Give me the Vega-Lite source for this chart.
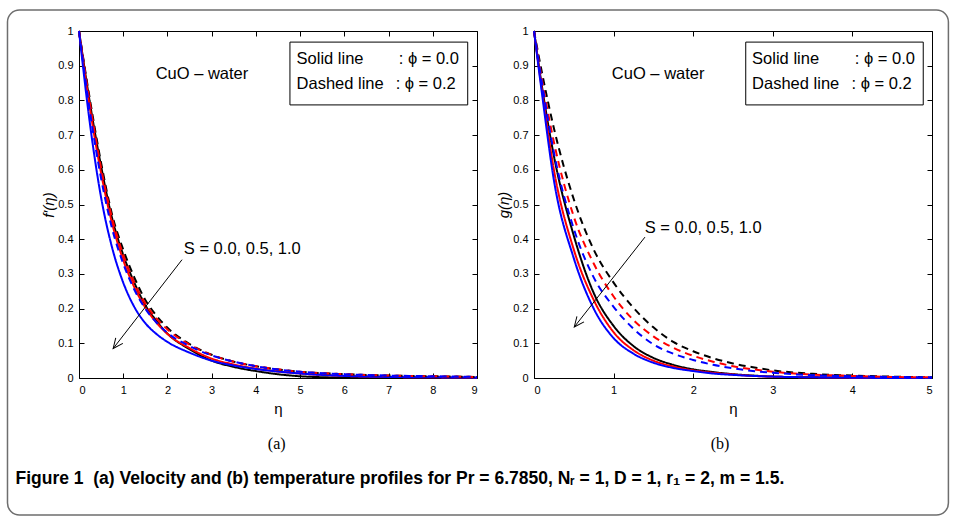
{
  "$schema": "https://vega.github.io/schema/vega-lite/v6.json",
  "padding": {"left": 6, "top": 8, "right": 0, "bottom": 0},
  "background": "white",
  "bounds": "flush",
  "spacing": 57,
  "config": {
    "view": {"stroke": "black", "strokeWidth": 1},
    "axis": {"labelFont": "Liberation Sans", "labelFontSize": 11, "labelColor": "black", "tickColor": "black", "titleFont": "Liberation Sans", "titleFontWeight": "normal", "titleColor": "black", "domain": false, "grid": false},
    "text": {"font": "Liberation Sans", "color": "black"}
  },
  "datasets": {
    "fa": [
      {"S":"0.0","p":"0.0","x":0,"y":1},{"S":"0.0","p":"0.0","x":0.25,"y":0.79},{"S":"0.0","p":"0.0","x":0.5,"y":0.61},{"S":"0.0","p":"0.0","x":0.75,"y":0.46},{"S":"0.0","p":"0.0","x":1,"y":0.355},{"S":"0.0","p":"0.0","x":1.25,"y":0.275},{"S":"0.0","p":"0.0","x":1.5,"y":0.21},{"S":"0.0","p":"0.0","x":1.75,"y":0.165},{"S":"0.0","p":"0.0","x":2,"y":0.128},{"S":"0.0","p":"0.0","x":2.5,"y":0.083},{"S":"0.0","p":"0.0","x":3,"y":0.05},{"S":"0.0","p":"0.0","x":3.5,"y":0.032},{"S":"0.0","p":"0.0","x":4,"y":0.02},{"S":"0.0","p":"0.0","x":5,"y":0.005},{"S":"0.0","p":"0.0","x":6,"y":0.001},{"S":"0.0","p":"0.0","x":7,"y":0},{"S":"0.0","p":"0.0","x":8,"y":0},{"S":"0.0","p":"0.0","x":9,"y":0},
      {"S":"0.5","p":"0.0","x":0,"y":1},{"S":"0.5","p":"0.0","x":0.25,"y":0.775},{"S":"0.5","p":"0.0","x":0.5,"y":0.59},{"S":"0.5","p":"0.0","x":0.75,"y":0.445},{"S":"0.5","p":"0.0","x":1,"y":0.34},{"S":"0.5","p":"0.0","x":1.25,"y":0.262},{"S":"0.5","p":"0.0","x":1.5,"y":0.203},{"S":"0.5","p":"0.0","x":1.75,"y":0.16},{"S":"0.5","p":"0.0","x":2,"y":0.127},{"S":"0.5","p":"0.0","x":2.5,"y":0.086},{"S":"0.5","p":"0.0","x":3,"y":0.056},{"S":"0.5","p":"0.0","x":3.5,"y":0.039},{"S":"0.5","p":"0.0","x":4,"y":0.027},{"S":"0.5","p":"0.0","x":5,"y":0.013},{"S":"0.5","p":"0.0","x":6,"y":0.006},{"S":"0.5","p":"0.0","x":7,"y":0.003},{"S":"0.5","p":"0.0","x":8,"y":0.002},{"S":"0.5","p":"0.0","x":9,"y":0.001},
      {"S":"1.0","p":"0.0","x":0,"y":1},{"S":"1.0","p":"0.0","x":0.25,"y":0.73},{"S":"1.0","p":"0.0","x":0.5,"y":0.52},{"S":"1.0","p":"0.0","x":0.75,"y":0.375},{"S":"1.0","p":"0.0","x":1,"y":0.275},{"S":"1.0","p":"0.0","x":1.25,"y":0.205},{"S":"1.0","p":"0.0","x":1.5,"y":0.158},{"S":"1.0","p":"0.0","x":1.75,"y":0.127},{"S":"1.0","p":"0.0","x":2,"y":0.104},{"S":"1.0","p":"0.0","x":2.5,"y":0.073},{"S":"1.0","p":"0.0","x":3,"y":0.05},{"S":"1.0","p":"0.0","x":3.5,"y":0.036},{"S":"1.0","p":"0.0","x":4,"y":0.026},{"S":"1.0","p":"0.0","x":5,"y":0.013},{"S":"1.0","p":"0.0","x":6,"y":0.006},{"S":"1.0","p":"0.0","x":7,"y":0.003},{"S":"1.0","p":"0.0","x":8,"y":0.002},{"S":"1.0","p":"0.0","x":9,"y":0.001},
      {"S":"0.0","p":"0.2","x":0,"y":1},{"S":"0.0","p":"0.2","x":0.25,"y":0.8},{"S":"0.0","p":"0.2","x":0.5,"y":0.62},{"S":"0.0","p":"0.2","x":0.75,"y":0.47},{"S":"0.0","p":"0.2","x":1,"y":0.37},{"S":"0.0","p":"0.2","x":1.25,"y":0.29},{"S":"0.0","p":"0.2","x":1.5,"y":0.225},{"S":"0.0","p":"0.2","x":1.75,"y":0.18},{"S":"0.0","p":"0.2","x":2,"y":0.145},{"S":"0.0","p":"0.2","x":2.5,"y":0.098},{"S":"0.0","p":"0.2","x":3,"y":0.067},{"S":"0.0","p":"0.2","x":3.5,"y":0.047},{"S":"0.0","p":"0.2","x":4,"y":0.034},{"S":"0.0","p":"0.2","x":5,"y":0.018},{"S":"0.0","p":"0.2","x":6,"y":0.011},{"S":"0.0","p":"0.2","x":7,"y":0.007},{"S":"0.0","p":"0.2","x":8,"y":0.005},{"S":"0.0","p":"0.2","x":9,"y":0.003},
      {"S":"0.5","p":"0.2","x":0,"y":1},{"S":"0.5","p":"0.2","x":0.25,"y":0.79},{"S":"0.5","p":"0.2","x":0.5,"y":0.605},{"S":"0.5","p":"0.2","x":0.75,"y":0.46},{"S":"0.5","p":"0.2","x":1,"y":0.355},{"S":"0.5","p":"0.2","x":1.25,"y":0.275},{"S":"0.5","p":"0.2","x":1.5,"y":0.215},{"S":"0.5","p":"0.2","x":1.75,"y":0.172},{"S":"0.5","p":"0.2","x":2,"y":0.14},{"S":"0.5","p":"0.2","x":2.5,"y":0.096},{"S":"0.5","p":"0.2","x":3,"y":0.066},{"S":"0.5","p":"0.2","x":3.5,"y":0.047},{"S":"0.5","p":"0.2","x":4,"y":0.034},{"S":"0.5","p":"0.2","x":5,"y":0.018},{"S":"0.5","p":"0.2","x":6,"y":0.011},{"S":"0.5","p":"0.2","x":7,"y":0.007},{"S":"0.5","p":"0.2","x":8,"y":0.005},{"S":"0.5","p":"0.2","x":9,"y":0.003},
      {"S":"1.0","p":"0.2","x":0,"y":1},{"S":"1.0","p":"0.2","x":0.25,"y":0.765},{"S":"1.0","p":"0.2","x":0.5,"y":0.575},{"S":"1.0","p":"0.2","x":0.75,"y":0.43},{"S":"1.0","p":"0.2","x":1,"y":0.33},{"S":"1.0","p":"0.2","x":1.25,"y":0.255},{"S":"1.0","p":"0.2","x":1.5,"y":0.2},{"S":"1.0","p":"0.2","x":1.75,"y":0.16},{"S":"1.0","p":"0.2","x":2,"y":0.13},{"S":"1.0","p":"0.2","x":2.5,"y":0.092},{"S":"1.0","p":"0.2","x":3,"y":0.065},{"S":"1.0","p":"0.2","x":3.5,"y":0.047},{"S":"1.0","p":"0.2","x":4,"y":0.034},{"S":"1.0","p":"0.2","x":5,"y":0.018},{"S":"1.0","p":"0.2","x":6,"y":0.011},{"S":"1.0","p":"0.2","x":7,"y":0.007},{"S":"1.0","p":"0.2","x":8,"y":0.005},{"S":"1.0","p":"0.2","x":9,"y":0.003}
    ],
    "fb": [
      {"S":"0.0","p":"0.0","x":0,"y":1},{"S":"0.0","p":"0.0","x":0.1,"y":0.84},{"S":"0.0","p":"0.0","x":0.25,"y":0.64},{"S":"0.0","p":"0.0","x":0.5,"y":0.41},{"S":"0.0","p":"0.0","x":0.75,"y":0.245},{"S":"0.0","p":"0.0","x":1,"y":0.15},{"S":"0.0","p":"0.0","x":1.25,"y":0.092},{"S":"0.0","p":"0.0","x":1.5,"y":0.058},{"S":"0.0","p":"0.0","x":1.75,"y":0.038},{"S":"0.0","p":"0.0","x":2,"y":0.025},{"S":"0.0","p":"0.0","x":2.25,"y":0.017},{"S":"0.0","p":"0.0","x":2.5,"y":0.011},{"S":"0.0","p":"0.0","x":2.75,"y":0.007},{"S":"0.0","p":"0.0","x":3,"y":0.004},{"S":"0.0","p":"0.0","x":3.5,"y":0.002},{"S":"0.0","p":"0.0","x":4,"y":0.001},{"S":"0.0","p":"0.0","x":4.5,"y":0},{"S":"0.0","p":"0.0","x":5,"y":0},
      {"S":"0.5","p":"0.0","x":0,"y":1},{"S":"0.5","p":"0.0","x":0.1,"y":0.83},{"S":"0.5","p":"0.0","x":0.25,"y":0.6},{"S":"0.5","p":"0.0","x":0.5,"y":0.37},{"S":"0.5","p":"0.0","x":0.75,"y":0.225},{"S":"0.5","p":"0.0","x":1,"y":0.132},{"S":"0.5","p":"0.0","x":1.25,"y":0.08},{"S":"0.5","p":"0.0","x":1.5,"y":0.05},{"S":"0.5","p":"0.0","x":1.75,"y":0.033},{"S":"0.5","p":"0.0","x":2,"y":0.022},{"S":"0.5","p":"0.0","x":2.25,"y":0.015},{"S":"0.5","p":"0.0","x":2.5,"y":0.01},{"S":"0.5","p":"0.0","x":2.75,"y":0.006},{"S":"0.5","p":"0.0","x":3,"y":0.004},{"S":"0.5","p":"0.0","x":3.5,"y":0.002},{"S":"0.5","p":"0.0","x":4,"y":0.001},{"S":"0.5","p":"0.0","x":4.5,"y":0},{"S":"0.5","p":"0.0","x":5,"y":0},
      {"S":"1.0","p":"0.0","x":0,"y":1},{"S":"1.0","p":"0.0","x":0.1,"y":0.82},{"S":"1.0","p":"0.0","x":0.25,"y":0.57},{"S":"1.0","p":"0.0","x":0.5,"y":0.345},{"S":"1.0","p":"0.0","x":0.75,"y":0.2},{"S":"1.0","p":"0.0","x":1,"y":0.115},{"S":"1.0","p":"0.0","x":1.25,"y":0.07},{"S":"1.0","p":"0.0","x":1.5,"y":0.044},{"S":"1.0","p":"0.0","x":1.75,"y":0.029},{"S":"1.0","p":"0.0","x":2,"y":0.02},{"S":"1.0","p":"0.0","x":2.25,"y":0.013},{"S":"1.0","p":"0.0","x":2.5,"y":0.009},{"S":"1.0","p":"0.0","x":2.75,"y":0.006},{"S":"1.0","p":"0.0","x":3,"y":0.004},{"S":"1.0","p":"0.0","x":3.5,"y":0.002},{"S":"1.0","p":"0.0","x":4,"y":0.001},{"S":"1.0","p":"0.0","x":4.5,"y":0},{"S":"1.0","p":"0.0","x":5,"y":0},
      {"S":"0.0","p":"0.2","x":0,"y":1},{"S":"0.0","p":"0.2","x":0.1,"y":0.88},{"S":"0.0","p":"0.2","x":0.25,"y":0.72},{"S":"0.0","p":"0.2","x":0.5,"y":0.515},{"S":"0.0","p":"0.2","x":0.75,"y":0.37},{"S":"0.0","p":"0.2","x":1,"y":0.275},{"S":"0.0","p":"0.2","x":1.25,"y":0.202},{"S":"0.0","p":"0.2","x":1.5,"y":0.146},{"S":"0.0","p":"0.2","x":1.75,"y":0.104},{"S":"0.0","p":"0.2","x":2,"y":0.077},{"S":"0.0","p":"0.2","x":2.25,"y":0.057},{"S":"0.0","p":"0.2","x":2.5,"y":0.042},{"S":"0.0","p":"0.2","x":2.75,"y":0.031},{"S":"0.0","p":"0.2","x":3,"y":0.022},{"S":"0.0","p":"0.2","x":3.5,"y":0.012},{"S":"0.0","p":"0.2","x":4,"y":0.007},{"S":"0.0","p":"0.2","x":4.5,"y":0.004},{"S":"0.0","p":"0.2","x":5,"y":0.002},
      {"S":"0.5","p":"0.2","x":0,"y":1},{"S":"0.5","p":"0.2","x":0.1,"y":0.86},{"S":"0.5","p":"0.2","x":0.25,"y":0.68},{"S":"0.5","p":"0.2","x":0.5,"y":0.465},{"S":"0.5","p":"0.2","x":0.75,"y":0.33},{"S":"0.5","p":"0.2","x":1,"y":0.235},{"S":"0.5","p":"0.2","x":1.25,"y":0.167},{"S":"0.5","p":"0.2","x":1.5,"y":0.12},{"S":"0.5","p":"0.2","x":1.75,"y":0.087},{"S":"0.5","p":"0.2","x":2,"y":0.064},{"S":"0.5","p":"0.2","x":2.25,"y":0.047},{"S":"0.5","p":"0.2","x":2.5,"y":0.034},{"S":"0.5","p":"0.2","x":2.75,"y":0.025},{"S":"0.5","p":"0.2","x":3,"y":0.018},{"S":"0.5","p":"0.2","x":3.5,"y":0.01},{"S":"0.5","p":"0.2","x":4,"y":0.006},{"S":"0.5","p":"0.2","x":4.5,"y":0.003},{"S":"0.5","p":"0.2","x":5,"y":0.002},
      {"S":"1.0","p":"0.2","x":0,"y":1},{"S":"1.0","p":"0.2","x":0.1,"y":0.85},{"S":"1.0","p":"0.2","x":0.25,"y":0.65},{"S":"1.0","p":"0.2","x":0.5,"y":0.43},{"S":"1.0","p":"0.2","x":0.75,"y":0.29},{"S":"1.0","p":"0.2","x":1,"y":0.205},{"S":"1.0","p":"0.2","x":1.25,"y":0.142},{"S":"1.0","p":"0.2","x":1.5,"y":0.097},{"S":"1.0","p":"0.2","x":1.75,"y":0.07},{"S":"1.0","p":"0.2","x":2,"y":0.052},{"S":"1.0","p":"0.2","x":2.25,"y":0.038},{"S":"1.0","p":"0.2","x":2.5,"y":0.028},{"S":"1.0","p":"0.2","x":2.75,"y":0.02},{"S":"1.0","p":"0.2","x":3,"y":0.015},{"S":"1.0","p":"0.2","x":3.5,"y":0.008},{"S":"1.0","p":"0.2","x":4,"y":0.005},{"S":"1.0","p":"0.2","x":4.5,"y":0.003},{"S":"1.0","p":"0.2","x":5,"y":0.002}
    ]
  },
  "hconcat": [
    {
      "width": 398,
      "height": 347,
      "resolve": {"axis": {"x": "independent", "y": "independent"}},
      "layer": [
        {
          "data": {"values": [{"k": "frame"}]},
          "mark": {"type": "rect", "filled": false, "stroke": "#6e6e6e", "strokeWidth": 1.5, "cornerRadius": 12},
          "encoding": {
            "x": {"datum": -1.617, "type": "quantitative", "scale": {"domain": [0, 9], "nice": false, "zero": false}, "axis": null},
            "x2": {"datum": 19.66},
            "y": {"datum": 1.0605, "type": "quantitative", "scale": {"domain": [0, 1], "nice": false, "zero": false}, "axis": null},
            "y2": {"datum": -0.3948}
          }
        },
        {
          "data": {"name": "fa"},
          "mark": {"type": "line", "strokeWidth": 2, "interpolate": "monotone"},
          "encoding": {
            "x": {"field": "x", "type": "quantitative", "scale": {"domain": [0, 9], "nice": false, "zero": false},
                  "axis": {"orient": "bottom", "values": [0,1,2,3,4,5,6,7,8,9], "format": "d", "title": "η", "titleFontSize": 15, "tickSize": -5, "labelPadding": 11, "titlePadding": 6}},
            "y": {"field": "y", "type": "quantitative", "scale": {"domain": [0, 1], "nice": false, "zero": false},
                  "axis": {"orient": "left", "values": [0,0.1,0.2,0.3,0.4,0.5,0.6,0.7,0.8,0.9,1], "format": "~g", "title": "f′(η)", "titleFontSize": 15, "titleFontStyle": "italic", "tickSize": -5, "labelPadding": 11, "titlePadding": 1}},
            "color": {"field": "S", "type": "nominal", "scale": {"domain": ["0.0", "0.5", "1.0"], "range": ["#000000", "#ff0000", "#0000ff"]}, "legend": null},
            "strokeDash": {"field": "p", "type": "nominal", "scale": {"domain": ["0.0", "0.2"], "range": [[1, 0], [7, 5]]}, "legend": null}
          }
        },
        {
          "data": {"values": [{"x": 2.78, "y": 0.876, "t": "CuO – water"}]},
          "mark": {"type": "text", "fontSize": 16.5, "align": "center", "baseline": "middle"},
          "encoding": {
            "x": {"field": "x", "type": "quantitative", "scale": {"domain": [0, 9], "nice": false, "zero": false},
                  "axis": {"orient": "top", "values": [0,1,2,3,4,5,6,7,8,9], "labels": false, "title": null, "tickSize": -5}},
            "y": {"field": "y", "type": "quantitative", "scale": {"domain": [0, 1], "nice": false, "zero": false},
                  "axis": {"orient": "right", "values": [0,0.1,0.2,0.3,0.4,0.5,0.6,0.7,0.8,0.9,1], "labels": false, "title": null, "tickSize": -5}},
            "text": {"field": "t"}
          }
        },
        {
          "data": {"values": [{"x": 4.77, "x2": 8.79, "y": 0.968, "y2": 0.787}]},
          "mark": {"type": "rect", "fill": "white", "stroke": "black", "strokeWidth": 1},
          "encoding": {
            "x": {"field": "x", "type": "quantitative", "axis": null},
            "x2": {"field": "x2"},
            "y": {"field": "y", "type": "quantitative", "axis": null},
            "y2": {"field": "y2"}
          }
        },
        {
          "data": {"values": [
            {"x": 4.92, "y": 0.919, "t": "Solid line"},
            {"x": 4.92, "y": 0.847, "t": "Dashed line"},
            {"x": 7.23, "y": 0.919, "t": ": ϕ = 0.0"},
            {"x": 7.16, "y": 0.847, "t": ": ϕ = 0.2"},
            {"x": 2.37, "y": 0.371, "t": "S = 0.0, 0.5, 1.0"}
          ]},
          "mark": {"type": "text", "fontSize": 16.5, "align": "left", "baseline": "middle"},
          "encoding": {
            "x": {"field": "x", "type": "quantitative", "axis": null},
            "y": {"field": "y", "type": "quantitative", "axis": null},
            "text": {"field": "t"}
          }
        },
        {
          "data": {"values": [{"x": 2.33, "y": 0.341, "x2": 0.773, "y2": 0.085}]},
          "mark": {"type": "rule", "color": "black", "strokeWidth": 1},
          "encoding": {
            "x": {"field": "x", "type": "quantitative", "axis": null},
            "y": {"field": "y", "type": "quantitative", "axis": null},
            "x2": {"field": "x2"},
            "y2": {"field": "y2"}
          }
        },
        {
          "data": {"values": [{"x": 0.773, "y": 0.085}]},
          "mark": {"type": "point", "shape": "M -0.45 1 L 0 0 L 0.45 1", "filled": false, "stroke": "black", "strokeWidth": 1, "size": 400, "angle": 217.7, "opacity": 1},
          "encoding": {
            "x": {"field": "x", "type": "quantitative", "axis": null},
            "y": {"field": "y", "type": "quantitative", "axis": null}
          }
        },
        {
          "data": {"values": [{"x": 4.47, "y": -0.19, "t": "(a)"}]},
          "mark": {"type": "text", "font": "Liberation Serif", "fontSize": 16, "align": "center", "baseline": "middle"},
          "encoding": {
            "x": {"field": "x", "type": "quantitative", "axis": null},
            "y": {"field": "y", "type": "quantitative", "axis": null},
            "text": {"field": "t"}
          }
        },
        {
          "data": {"values": [{"x": -1.436, "y": -0.291, "t": "Figure 1\u00a0\u00a0(a) Velocity and (b) temperature profiles for Pr = 6.7850, Nᵣ = 1, D = 1, r₁ = 2, m = 1.5."}]},
          "mark": {"type": "text", "font": "Liberation Sans Narrow, Liberation Sans", "fontWeight": "bold", "fontSize": 17.5, "align": "left", "baseline": "middle"},
          "encoding": {
            "x": {"field": "x", "type": "quantitative", "axis": null},
            "y": {"field": "y", "type": "quantitative", "axis": null},
            "text": {"field": "t"}
          }
        }
      ]
    },
    {
      "width": 398,
      "height": 347,
      "resolve": {"axis": {"x": "independent", "y": "independent"}},
      "layer": [
        {
          "data": {"name": "fb"},
          "mark": {"type": "line", "strokeWidth": 2, "interpolate": "monotone"},
          "encoding": {
            "x": {"field": "x", "type": "quantitative", "scale": {"domain": [0, 5], "nice": false, "zero": false},
                  "axis": {"orient": "bottom", "values": [0,1,2,3,4,5], "format": "d", "title": "η", "titleFontSize": 15, "tickSize": -5, "labelPadding": 11, "titlePadding": 6}},
            "y": {"field": "y", "type": "quantitative", "scale": {"domain": [0, 1], "nice": false, "zero": false},
                  "axis": {"orient": "left", "values": [0,0.1,0.2,0.3,0.4,0.5,0.6,0.7,0.8,0.9,1], "format": "~g", "title": "g(η)", "titleFontSize": 15, "titleFontStyle": "italic", "tickSize": -5, "labelPadding": 11, "titlePadding": 1}},
            "color": {"field": "S", "type": "nominal", "scale": {"domain": ["0.0", "0.5", "1.0"], "range": ["#000000", "#ff0000", "#0000ff"]}, "legend": null},
            "strokeDash": {"field": "p", "type": "nominal", "scale": {"domain": ["0.0", "0.2"], "range": [[1, 0], [7, 5]]}, "legend": null}
          }
        },
        {
          "data": {"values": [{"x": 1.56, "y": 0.876, "t": "CuO – water"}]},
          "mark": {"type": "text", "fontSize": 16.5, "align": "center", "baseline": "middle"},
          "encoding": {
            "x": {"field": "x", "type": "quantitative", "scale": {"domain": [0, 5], "nice": false, "zero": false},
                  "axis": {"orient": "top", "values": [0,1,2,3,4,5], "labels": false, "title": null, "tickSize": -5}},
            "y": {"field": "y", "type": "quantitative", "scale": {"domain": [0, 1], "nice": false, "zero": false},
                  "axis": {"orient": "right", "values": [0,0.1,0.2,0.3,0.4,0.5,0.6,0.7,0.8,0.9,1], "labels": false, "title": null, "tickSize": -5}},
            "text": {"field": "t"}
          }
        },
        {
          "data": {"values": [{"x": 2.66, "x2": 4.89, "y": 0.968, "y2": 0.787}]},
          "mark": {"type": "rect", "fill": "white", "stroke": "black", "strokeWidth": 1},
          "encoding": {
            "x": {"field": "x", "type": "quantitative", "axis": null},
            "x2": {"field": "x2"},
            "y": {"field": "y", "type": "quantitative", "axis": null},
            "y2": {"field": "y2"}
          }
        },
        {
          "data": {"values": [
            {"x": 2.74, "y": 0.919, "t": "Solid line"},
            {"x": 2.74, "y": 0.847, "t": "Dashed line"},
            {"x": 4.03, "y": 0.919, "t": ": ϕ = 0.0"},
            {"x": 3.99, "y": 0.847, "t": ": ϕ = 0.2"},
            {"x": 1.39, "y": 0.433, "t": "S = 0.0, 0.5, 1.0"}
          ]},
          "mark": {"type": "text", "fontSize": 16.5, "align": "left", "baseline": "middle"},
          "encoding": {
            "x": {"field": "x", "type": "quantitative", "axis": null},
            "y": {"field": "y", "type": "quantitative", "axis": null},
            "text": {"field": "t"}
          }
        },
        {
          "data": {"values": [{"x": 1.394, "y": 0.406, "x2": 0.506, "y2": 0.147}]},
          "mark": {"type": "rule", "color": "black", "strokeWidth": 1},
          "encoding": {
            "x": {"field": "x", "type": "quantitative", "axis": null},
            "y": {"field": "y", "type": "quantitative", "axis": null},
            "x2": {"field": "x2"},
            "y2": {"field": "y2"}
          }
        },
        {
          "data": {"values": [{"x": 0.506, "y": 0.147}]},
          "mark": {"type": "point", "shape": "M -0.45 1 L 0 0 L 0.45 1", "filled": false, "stroke": "black", "strokeWidth": 1, "size": 400, "angle": 218.2, "opacity": 1},
          "encoding": {
            "x": {"field": "x", "type": "quantitative", "axis": null},
            "y": {"field": "y", "type": "quantitative", "axis": null}
          }
        },
        {
          "data": {"values": [{"x": 2.337, "y": -0.19, "t": "(b)"}]},
          "mark": {"type": "text", "font": "Liberation Serif", "fontSize": 16, "align": "center", "baseline": "middle"},
          "encoding": {
            "x": {"field": "x", "type": "quantitative", "axis": null},
            "y": {"field": "y", "type": "quantitative", "axis": null},
            "text": {"field": "t"}
          }
        }
      ]
    }
  ]
}
